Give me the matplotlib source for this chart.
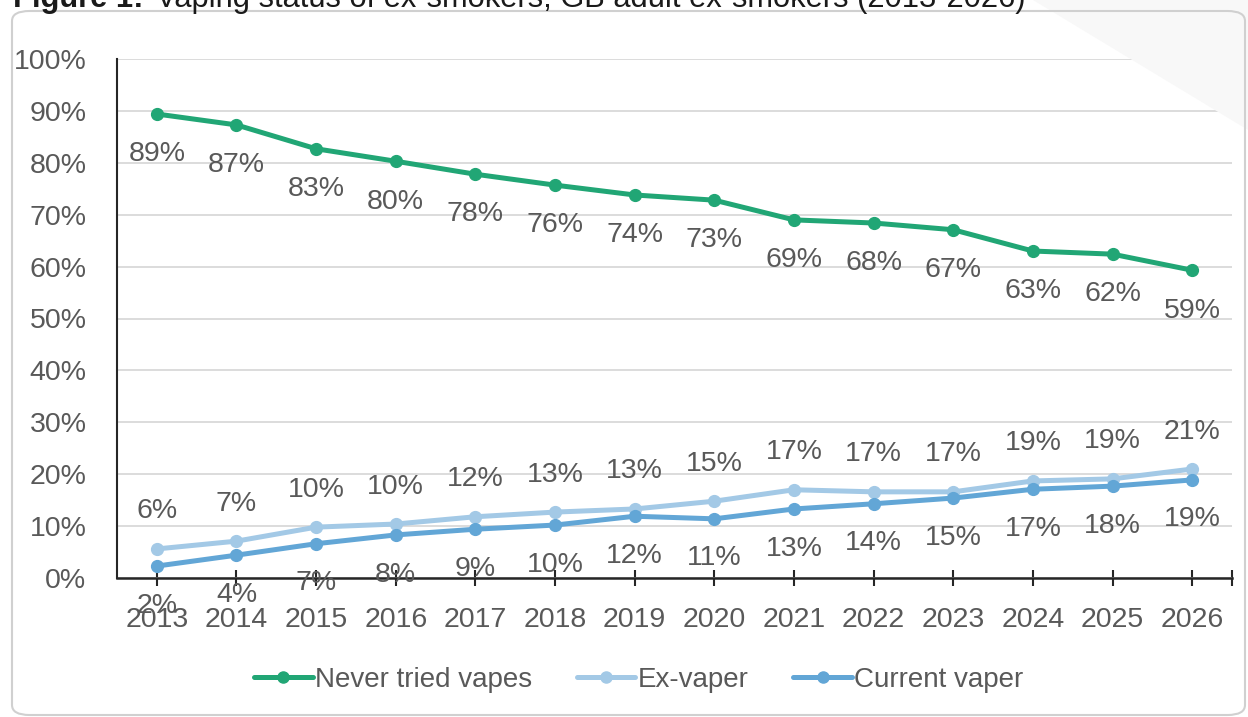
import matplotlib.pyplot as plt
from matplotlib.patches import FancyBboxPatch, Polygon
from matplotlib.lines import Line2D

# data
years = [str(y) for y in range(2013, 2027)]
never_tried = [89.4, 87.3, 82.7, 80.3, 77.8, 75.7, 73.8, 72.8, 69.0, 68.4, 67.1, 63.0, 62.4, 59.3]
ex_vaper = [5.6, 7.1, 9.8, 10.4, 11.8, 12.7, 13.3, 14.8, 17.0, 16.6, 16.6, 18.7, 19.1, 21.0]
current_vaper = [2.3, 4.4, 6.6, 8.3, 9.4, 10.2, 11.9, 11.4, 13.3, 14.3, 15.4, 17.1, 17.7, 18.9]
series_names = ["Never tried vapes", "Ex-vaper", "Current vaper"]

GREEN = "#21A675"
LIGHT = "#A3C9E6"
MID = "#62A6D6"
TXT = "#595959"
FONT = ["Liberation Sans", "DejaVu Sans"]
FS = 20.5

plt.rcParams["font.family"] = FONT

W, H = 1248, 717
fig = plt.figure(figsize=(W / 100, H / 100), dpi=100)

# faint decorative band in the top-right corner
band = Polygon([(1033 / W, 1.0), (1.0, 1.0), (1.0, 1 - 130 / H)],
               closed=True, transform=fig.transFigure, facecolor="#F8F8F8",
               edgecolor="none", zorder=0)
fig.patches.append(band)

# chart frame
frame = FancyBboxPatch((12 / W, 2 / H), 1233 / W, 704 / H,
                       boxstyle="round,pad=0,rounding_size=0.014",
                       transform=fig.transFigure, facecolor="none",
                       edgecolor="#D0D0D0", linewidth=1.5, zorder=1)
fig.patches.append(frame)

# title, cut off at the top like the reference
t1 = fig.text(13 / W, 1 - 7 / H, "Figure 1:", fontsize=22.2, fontweight="bold",
              color="#1a1a1a", va="baseline", ha="left")
fig.canvas.draw()
bb = t1.get_window_extent()
fig.text((bb.x1 + 13) / W, 1 - 7 / H,
         "Vaping status of ex-smokers, GB adult ex-smokers (2013-2026)",
         fontsize=22.2, color="#1a1a1a", va="baseline", ha="left")

ax = fig.add_axes([117 / W, 1 - 578 / H, (1232 - 117) / W, (578 - 59) / H])
ax.set_facecolor("none")
x = list(range(len(years)))

lw = 3.6
ms = 8.5
ax.plot(x, never_tried, color=GREEN, lw=lw, marker="o", ms=ms, zorder=3,
        solid_capstyle="round")
ax.plot(x, ex_vaper, color=LIGHT, lw=lw, marker="o", ms=ms, zorder=3,
        solid_capstyle="round")
ax.plot(x, current_vaper, color=MID, lw=lw, marker="o", ms=ms, zorder=4,
        solid_capstyle="round")

# data labels
for xi, v in zip(x, never_tried):
    ax.annotate(f"{round(v)}%", (xi, v), xytext=(0, -29), textcoords="offset points",
                ha="center", va="center", fontsize=FS, color=TXT, zorder=5)
for xi, v in zip(x, ex_vaper):
    ax.annotate(f"{round(v)}%", (xi, v), xytext=(0, 27), textcoords="offset points",
                ha="center", va="center", fontsize=FS, color=TXT, zorder=5)
for xi, v in zip(x, current_vaper):
    ax.annotate(f"{round(v)}%", (xi, v), xytext=(0, -28.5), textcoords="offset points",
                ha="center", va="center", fontsize=FS, color=TXT, zorder=5)

ax.set_xlim(-0.5, len(years) - 0.5)
ax.set_ylim(0, 100)
ax.set_yticks(range(0, 101, 10))
ax.set_yticklabels([f"{t}%" for t in range(0, 101, 10)])
ax.set_xticks(x)
ax.set_xticklabels(years)
ax.set_xticks([len(years) - 0.5], minor=True)

ax.grid(axis="y", color="#D9D9D9", linewidth=1.3, zorder=0)
ax.set_axisbelow(True)
for s in ["top", "right"]:
    ax.spines[s].set_visible(False)
ax.spines["left"].set_color("#262626")
ax.spines["bottom"].set_color("#262626")
ax.spines["left"].set_linewidth(1.5)
ax.spines["bottom"].set_linewidth(1.8)

ax.tick_params(axis="y", length=0, pad=22, labelsize=FS, labelcolor=TXT)
ax.tick_params(axis="x", which="both", direction="inout", length=11, width=1.5,
               color="#262626", pad=15.5, labelsize=FS, labelcolor=TXT)

handles = [Line2D([0], [0], color=c, lw=lw, marker="o", ms=8, solid_capstyle="round")
           for c in (GREEN, LIGHT, MID)]
fig.legend(handles, series_names, loc="center", bbox_to_anchor=(639 / W, 1 - 680 / H),
           ncol=3, frameon=False, fontsize=20, handlelength=2.1, handletextpad=0.1,
           columnspacing=1.6, labelcolor=TXT)

fig.savefig("out.png", dpi=100)
